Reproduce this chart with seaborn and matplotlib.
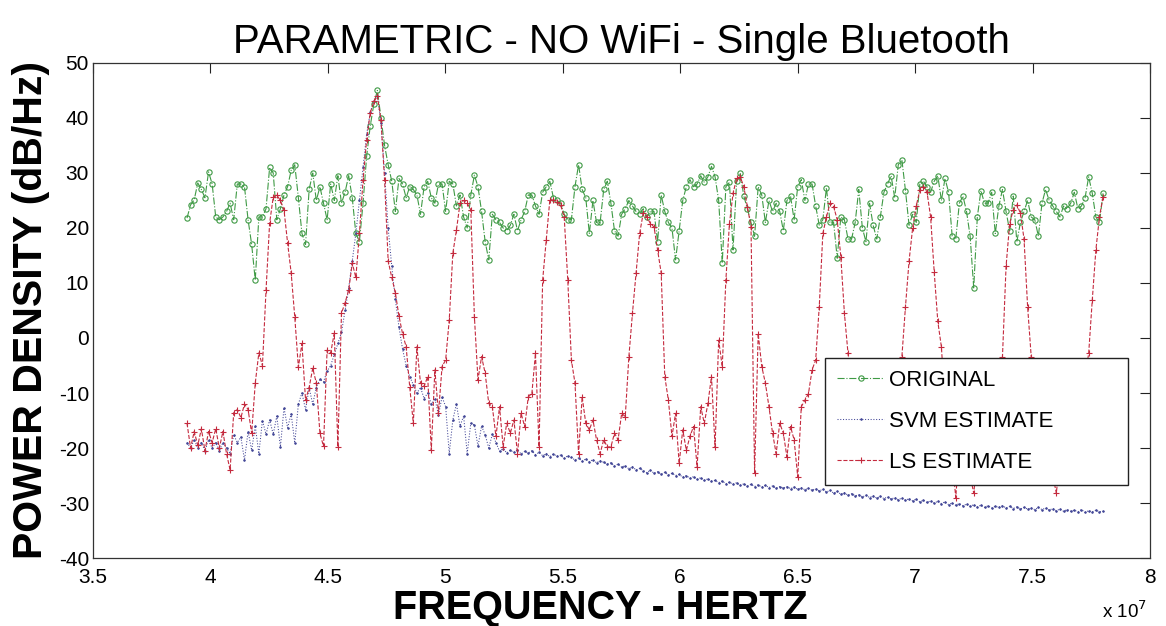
import numpy as np
import pandas as pd
import matplotlib
matplotlib.use("Agg")
import matplotlib.pyplot as plt
import seaborn as sns

# frequency grid (Hz) and the three spectra (dB/Hz)
n_points = 256
freq = np.linspace(3.9e7, 7.8e7, n_points)

original = [
    21.8, 24.2, 25.1, 28.2, 27, 25.5, 30.2, 28, 22, 21.5,
    22, 23, 24.5, 21.5, 28, 28, 27.5, 21.5, 17, 10.5,
    22, 22, 23.5, 31, 30, 21.5, 23.5, 26, 27.5, 30.5,
    31.5, 25.5, 19, 17, 27, 30, 25, 27.5, 24.5, 21.5,
    28, 25, 29.5, 24.5, 26.5, 29.5, 25.5, 19, 17.5, 24.5,
    33, 38.5, 42.5, 45, 40, 35, 31.5, 28.5, 23, 29,
    28, 25.5, 27.5, 27, 26, 22.5, 27.5, 28.5, 25.5, 24.5,
    28, 28, 23, 28.5, 28, 24, 26,
    22, 20, 26, 29.6, 27.5, 23, 17.5, 14.2, 22.5, 21.5,
    21, 20, 19.5, 20.5, 22.5, 19.5, 21.5, 23, 26, 26,
    24, 22.5, 26.5, 27.5, 28.5, 25.5, 25, 24.5, 22.5, 21.5,
    21.5, 27.5, 31.5, 27, 25.5, 19, 25, 21, 21, 27,
    28.5, 24.5, 19.5, 18.5, 22.5, 23.5, 25, 24, 23, 22.5,
    23.5, 22, 23, 23, 17.5, 26, 23, 21, 20, 14.2,
    19.5, 25, 27.5, 28.8, 27.5, 28, 29.5, 28.3, 29.3, 31.2,
    29.3, 25, 13.6, 27.5, 28.3, 16, 28.5, 30, 25.8, 23.5,
    21, 18.5, 27.5, 26, 21, 25, 23, 24.5, 23, 19.5,
    25, 25.8, 21.5, 27.5, 28.8, 25, 28, 28, 24, 20.5,
    21.5, 27.3, 21, 21, 14.5, 22,
    21.5, 18, 18, 21, 27, 20, 17.5, 24.5, 20.5, 18,
    22, 26.5, 28, 29.5, 25.5, 31.5, 32.4, 26.8, 20.5, 22.5,
    21, 28, 28.5, 27.5, 26.5, 28.5, 29.5, 25, 29, 26.5,
    18.5, 18, 24.5, 25.8, 23, 18.5, 9.1, 22, 26.8, 24.5,
    24.5, 26.5, 19, 24, 27, 23, 19.5, 25.8, 17.5, 21,
    23, 25, 22, 21.5, 18.5, 24.5, 27, 25, 24, 23,
    22, 24, 23.5, 24.5, 26.5, 23.5, 24, 25.5, 29.3, 26.3,
    22, 21, 26.3,
]

svm_estimate = [
    -19, -20, -18.5, -20, -19, -20.5, -18.5, -20, -19, -20.5,
    -19, -20, -21, -17.6, -19, -18, -22.2, -17, -20.4, -16,
    -21, -15, -17.5, -14.9, -17.5, -14.2, -19.8, -12.7, -16.3, -13.8,
    -19.1, -12, -10, -13, -9.1, -12, -9, -7.5, -8, -6,
    -5, -3, -1, 1, 5, 9, 14, 19, 25, 31,
    37, 41, 43, 44, 39, 30, 20, 13, 7, 2,
    -2, -5, -7, -8.5, -10, -9, -11, -10, -12, -11,
    -14, -10.7, -12.5, -21, -14.9, -12, -16, -14.2, -21, -15.5,
    -15.8, -19.7, -16, -17.6, -20, -17.5, -19,
    -20.6, -20.1, -20.9, -20.4, -20.8, -20.3, -21.1, -20.6, -20.9, -20.5,
    -21.2, -20.8, -21.4, -21.0, -21.6, -21.1, -21.5, -21.3, -21.9, -21.4,
    -21.7, -22.2, -21.8, -22.4, -22.0, -22.5, -22.1, -22.7, -22.3, -22.6,
    -22.9, -22.7, -23.3, -22.9, -23.5, -23.2, -23.8, -23.4, -24.0, -23.7,
    -24.1, -24.5, -24.0, -24.6, -24.3, -24.8, -24.4, -24.9, -24.6, -25.0,
    -24.8, -25.3, -25.0, -25.5, -25.2, -25.7, -25.4, -25.9, -25.6, -26.0,
    -25.9, -26.3, -26.0, -26.5, -26.2, -26.6, -26.3, -26.8, -26.5, -26.9,
    -26.6, -27.0, -26.7, -27.1, -26.8, -27.2, -26.9, -27.3, -27.0, -27.3,
    -27.0, -27.4, -27.1, -27.5, -27.2, -27.6, -27.3, -27.7, -27.4, -27.8,
    -27.5, -28.0, -27.7, -28.2, -27.9, -28.4, -28.1, -28.6, -28.3, -28.7,
    -28.5, -28.9, -28.6, -29.0, -28.7, -29.1, -28.8, -29.2, -28.9, -29.3,
    -29.0, -29.4, -29.1, -29.5, -29.2, -29.6, -29.3, -29.8, -29.5, -29.9,
    -29.6, -30.0, -29.7, -30.1, -29.8, -30.3, -30.0, -30.4, -30.1, -30.5,
    -30.2, -30.6, -30.3, -30.7, -30.4, -30.8, -30.5, -30.9, -30.6, -30.8,
    -30.5, -30.9, -30.6, -31.0, -30.7, -31.1, -30.8, -31.1, -30.9, -31.2,
    -30.8, -31.2, -30.9, -31.3, -31.0, -31.4, -31.1, -31.5, -31.2, -31.5,
    -31.3, -31.6, -31.2, -31.7, -31.4, -31.6, -31.3, -31.6, -31.5,
]

ls_estimate = [
    -15.5, -20, -17, -19.5, -16.5, -20.5, -17, -19, -16.5, -20,
    -17, -21, -24, -13.6, -13, -14.5, -12, -13, -17.3, -8.2,
    -2.7, -5, 8.7, 20.9, 25.6, 26, 25, 23.3, 17.3, 11.8,
    3.8, -5.3, -1, -11.3, -9, -5.5, -8.2, -17.3, -19.7, -2.2,
    -2.7, 0.9, -19.8, 4.5, 6.4, 8.7, 13.6, 11, 19, 28.7,
    36, 40.9, 43, 44, 39.6, 28.7, 14, 11, 8.2, 4,
    0.8, -1.6, -8.9, -15.5, -1.6, -8.2, -8.8, -7, -20.4, -5.8,
    -13.7, -5.2, -4, 3.3, 15.4, 19.6, 24.5, 25, 24.5, 23.3,
    3.9, -7.6, -3.4, -6.4, -11.9, -12.5, -17.9, -12.5, -19.8, -15.5,
    -17.3, -14.9, -21, -13.7, -16.1, -10.7, -10.1, -2.8, -19.8, 10.5,
    17.8, 25.1, 25.1, 24.8, 24.2, 22, 10.5, -4, -8.2, -21,
    -10.7, -15.5, -16.7, -14.9, -18.5, -21, -18.5, -19.8, -19.8, -17.3,
    -18.5, -13.7, -14.3, -3.4, 4.5, 11.8, 19, 22.7, 22, 20.8,
    20.2, 16, 11.8, -7, -11.3, -17.9, -13.7, -22.8, -16.7, -20.4,
    -17.9, -16.1, -23.4, -12.5, -15.5, -11.9, -7, -19.8, -0.4, -5.2,
    10.5, 20.8, 26.3, 29, 29.3, 27.5, 23.9, 20.2, -24.6, 0.8,
    -5.2, -8.2, -12.5, -17.3, -21, -15.5, -17.3, -21.6, -16.1, -18.5,
    -25.2, -12.5, -11.3, -10.1, -5.8, -4, 5.7, 19, 22, 24.5,
    23.9, 21.5, 14.8, 4.5, -2.8, -10, -15, -18, -21, -19,
    -23, -20, -22, -18, -21, -16, -19, -14, -10, -3.4,
    5.7, 14, 20, 24, 26.9, 27.5, 26.5, 22, 12, 3,
    -1.6, -12, -18, -22, -29, -20, -24, -21, -25, -28.2,
    -22, -24, -19, -21, -15, -17, -10, -3.4, 13, 20.8,
    23.3, 24.2, 22.7, 18, 5.7, -3.4, -10, -16, -20, -23,
    -21, -25, -28.2, -22, -24, -19, -21, -16, -18, -12,
    -7, -2.8, 6.9, 16, 22, 25.7,
]

x_ticks = [3.5e7, 4e7, 4.5e7, 5e7, 5.5e7, 6e7, 6.5e7, 7e7, 7.5e7, 8e7]
x_tick_labels = ['3.5', '4', '4.5', '5', '5.5', '6', '6.5', '7', '7.5', '8']
y_ticks = [-40, -30, -20, -10, 0, 10, 20, 30, 40, 50]

df = pd.DataFrame({'freq': freq, 'original': original,
                   'svm': svm_estimate, 'ls': ls_estimate})

sns.set_theme(style='white')
plt.rcParams['font.family'] = ['Liberation Sans', 'DejaVu Sans']
plt.rcParams['axes.unicode_minus'] = False
plt.rcParams['text.color'] = 'black'
plt.rcParams['axes.labelcolor'] = 'black'

fig = plt.figure(figsize=(11.66, 6.26), dpi=100)
ax = fig.add_axes([0.0798, 0.1086, 0.9065, 0.7908])

green = '#3f9a45'
blue = '#434797'
red = '#c42a3e'

sns.lineplot(data=df, x='freq', y='original', ax=ax, color=green, linestyle='-.',
             linewidth=0.8, marker='o', markersize=3.8, markerfacecolor='none',
             markeredgecolor=green, markeredgewidth=0.8, label='ORIGINAL')
sns.lineplot(data=df, x='freq', y='svm', ax=ax, color=blue, linestyle=':',
             linewidth=0.75, marker='.', markersize=2.5, markerfacecolor=blue,
             markeredgecolor=blue, markeredgewidth=0.5, label='SVM ESTIMATE')
sns.lineplot(data=df, x='freq', y='ls', ax=ax, color=red, linestyle='--',
             linewidth=0.8, marker='+', markersize=4, markeredgecolor=red,
             markeredgewidth=0.8, label='LS ESTIMATE')

ax.set_xlim(3.5e7, 8e7)
ax.set_ylim(-40, 50)
ax.set_xticks(x_ticks, x_tick_labels)
ax.set_yticks(y_ticks)
ax.tick_params(direction='in', length=7, width=0.8, top=True, right=True,
               labelsize=15, colors='#222222', labelcolor='black')
ax.tick_params(axis='x', pad=7)
ax.tick_params(axis='y', pad=3)
for sp in ax.spines.values():
    sp.set_color('#333333')
    sp.set_linewidth(0.9)

ax.set_title('PARAMETRIC - NO WiFi - Single Bluetooth', fontsize=29, pad=7,
             color='black')
ax.set_xlabel('FREQUENCY - HERTZ', fontsize=28.5, fontweight='bold', color='black')
ax.xaxis.set_label_coords(0.4797, -0.062)
ax.set_ylabel('POWER DENSITY (dB/Hz)', fontsize=29.5, fontweight='bold',
              color='black')
ax.yaxis.set_label_coords(-0.041, 0.5)
fig.text(0.984, 0.013, r'x 10$^{7}$', ha='right', va='baseline', fontsize=13.5,
         color='black')

leg = ax.legend(loc='upper left', bbox_to_anchor=(0.6925, 0.143, 0.2865, 0.261),
                mode='expand', borderaxespad=0, fontsize=16, frameon=True,
                fancybox=False, framealpha=1, edgecolor='#222222',
                handlelength=2.1, handletextpad=0.25, labelspacing=0.9,
                borderpad=0.55)
leg.get_frame().set_linewidth(1.0)
for t in leg.get_texts():
    t.set_color('black')

fig.savefig('out.png', dpi=100)
